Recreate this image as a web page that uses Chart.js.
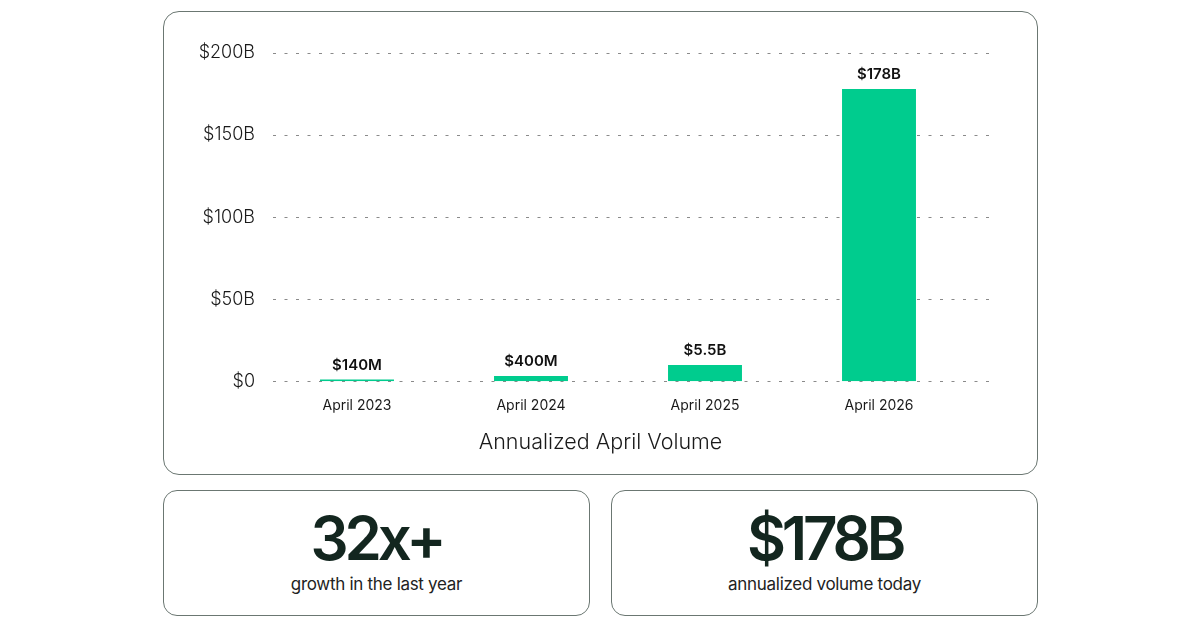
<!DOCTYPE html>
<html>
<head>
<meta charset="utf-8">
<script src="https://cdn.jsdelivr.net/npm/chart.js@4.4.1/dist/chart.umd.min.js"></script>
<style>
  html, body { margin:0; padding:0; background:#fff; width:1200px; height:630px; overflow:hidden; font-family: Inter, "Noto Sans", sans-serif; }
  .box { position:absolute; border:1px solid #6b7772; box-sizing:border-box; background:#fff; }
  #main { left:163px; top:11px; width:875px; height:464px; border-radius:16px; }
  #wrap { position:absolute; left:164px; top:12px; width:873px; height:462px; }
  .stat { top:490px; height:126px; border-radius:14px; text-align:center; color:#13261f; }
  #s1 { left:163px; width:427px; }
  #s2 { left:611px; width:427px; }
  .big { position:absolute; left:0; right:0; top:11px; font-size:60px; font-weight:600; letter-spacing:-0.07em; line-height:72px; }
  .sub { position:absolute; left:0; right:0; top:81px; font-size:17px; font-weight:400; letter-spacing:-0.3px; line-height:24px; color:#222; }
</style>
</head>
<body>
<div class="box" id="main"></div>
<div id="wrap"><canvas id="c"></canvas></div>
<div class="box stat" id="s1"><div class="big">32x+</div><div class="sub">growth in the last year</div></div>
<div class="box stat" id="s2"><div class="big">$178B</div><div class="sub">annualized volume today</div></div>
<script>
const categories = ["April 2023", "April 2024", "April 2025", "April 2026"];
const barValues = [1.0, 3.2, 9.8, 178];          // bar heights as drawn (in $B)
const valueLabels = ["$140M", "$400M", "$5.5B", "$178B"];
const tickValues = [0, 50, 100, 150, 200];
const tickLabels = ["$0", "$50B", "$100B", "$150B", "$200B"];
const axisTitle = "Annualized April Volume";

const gridPlugin = {
  id: 'dottedGrid',
  beforeDatasetsDraw(chart) {
    const {ctx, chartArea, scales} = chart;
    ctx.save();
    ctx.strokeStyle = '#8a8a8a';
    ctx.lineWidth = 1.2;
    ctx.setLineDash([3, 8.5]);
    tickValues.forEach(v => {
      const y = Math.round(scales.y.getPixelForValue(v)) + 0.5;
      ctx.beginPath();
      ctx.moveTo(chartArea.left + 3, y);
      ctx.lineTo(chartArea.right + 25, y);
      ctx.stroke();
    });
    ctx.restore();
  }
};

const labelPlugin = {
  id: 'valueLabels',
  afterDatasetsDraw(chart) {
    const {ctx, chartArea, width} = chart;
    const meta = chart.getDatasetMeta(0);
    ctx.save();
    ctx.fillStyle = '#111';
    ctx.font = '600 15px Inter, "Noto Sans", sans-serif';
    ctx.textAlign = 'center';
    ctx.textBaseline = 'bottom';
    meta.data.forEach((bar, i) => {
      ctx.fillText(valueLabels[i], bar.x, bar.y - 7);
    });
    // axis title, centred on the card
    ctx.fillStyle = '#1a1a1a';
    ctx.font = '300 21.5px Inter, "Noto Sans", sans-serif';
    ctx.textBaseline = 'middle';
    ctx.fillText(axisTitle, width / 2, chartArea.bottom + 61);
    ctx.restore();
  }
};

new Chart(document.getElementById('c'), {
  type: 'bar',
  data: {
    labels: categories,
    datasets: [{
      data: barValues,
      backgroundColor: '#00cc8e',
      borderWidth: 0,
      categoryPercentage: 1,
      barPercentage: 0.425
    }]
  },
  options: {
    responsive: true,
    maintainAspectRatio: false,
    animation: false,
    layout: { padding: { top: 41, right: 71, bottom: 44, left: 0 } },
    plugins: { legend: { display: false }, tooltip: { enabled: false } },
    scales: {
      x: {
        grid: { display: false, drawTicks: false },
        border: { display: false },
        ticks: { color: '#1a1a1a', font: { family: 'Inter', size: 14 }, padding: 16, maxRotation: 0 }
      },
      y: {
        min: 0, max: 200,
        afterFit(scale) { scale.width = 106; },
        afterBuildTicks(scale) { scale.ticks = tickValues.map(v => ({ value: v })); },
        grid: { display: false, drawTicks: false },
        border: { display: false },
        ticks: {
          color: '#1a1a1a',
          font: { family: 'Inter', size: 18, weight: 300 },
          padding: 15,
          callback: (v) => tickLabels[tickValues.indexOf(v)]
        }
      }
    }
  },
  plugins: [gridPlugin, labelPlugin]
});
</script>
</body>
</html>
